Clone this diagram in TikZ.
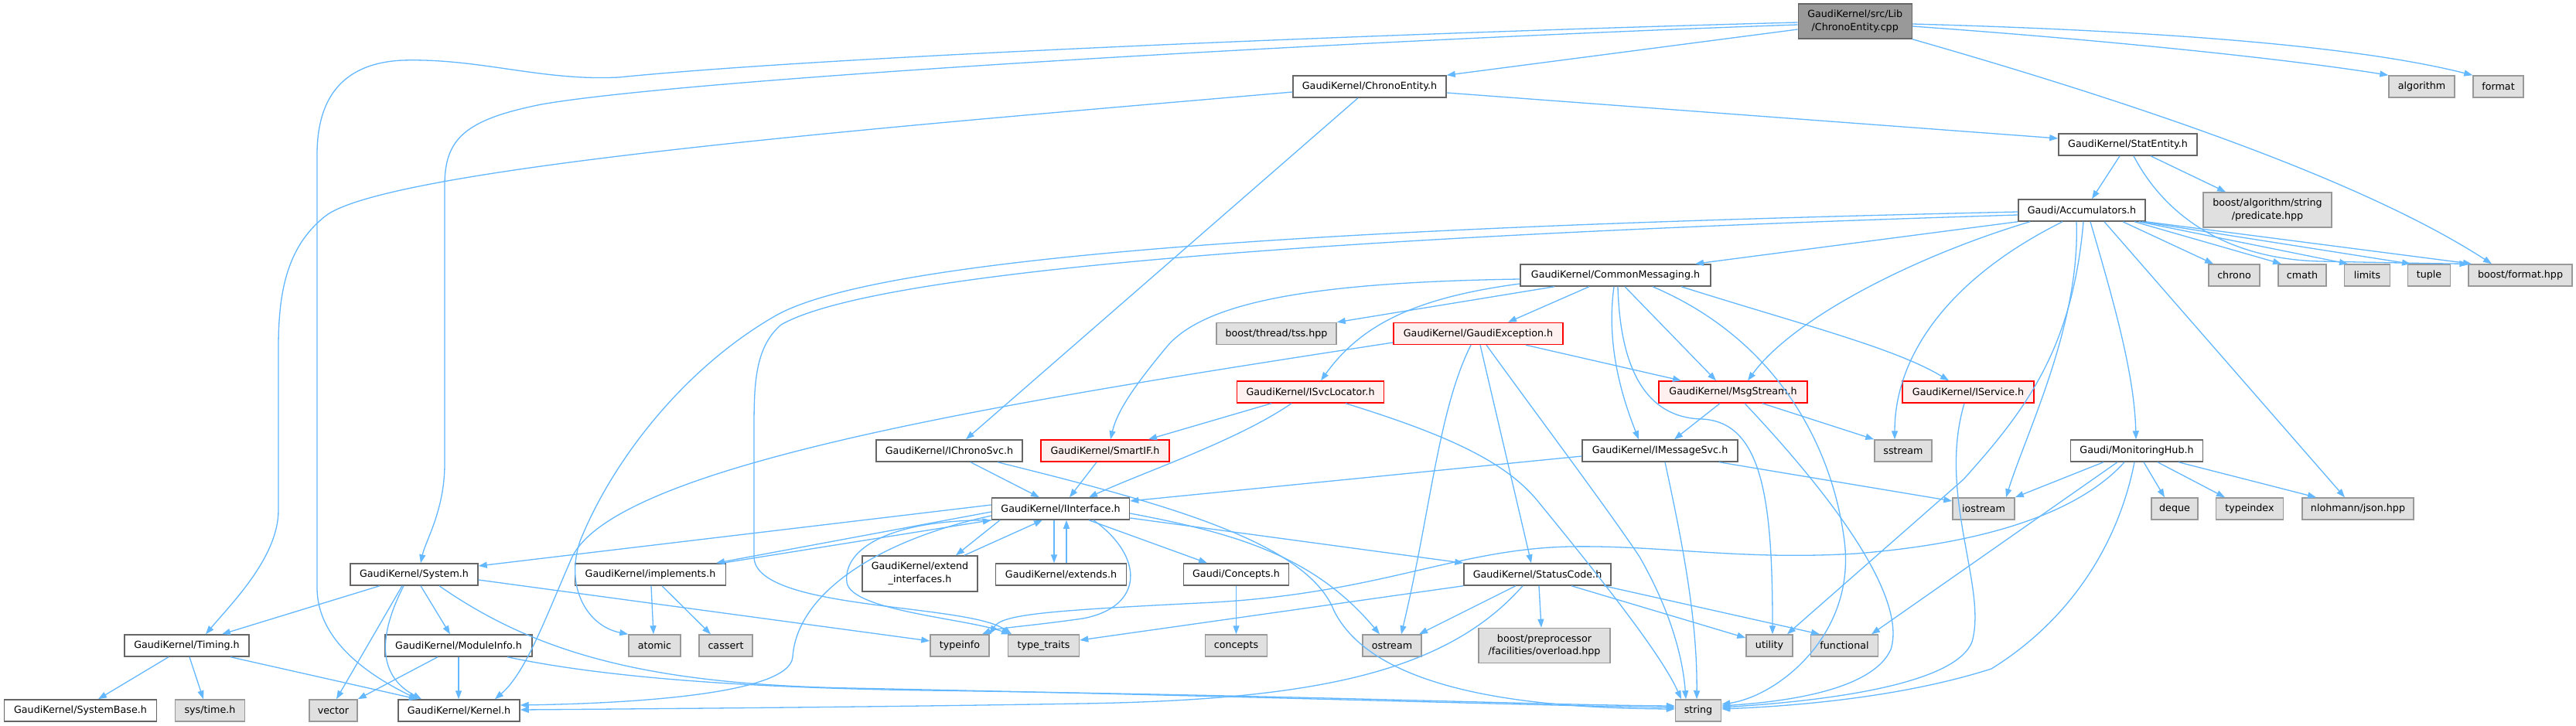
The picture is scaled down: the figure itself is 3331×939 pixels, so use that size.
\documentclass[tikz,border=0pt]{standalone}
\usepackage{fontspec}
\newfontfamily\dvs{DejaVu Sans}
\usetikzlibrary{arrows.meta}
\definecolor{eb}{HTML}{63B8FF}
\definecolor{bdark}{HTML}{666666}
\definecolor{blight}{HTML}{999999}
\definecolor{fext}{HTML}{E0E0E0}
\definecolor{fmain}{HTML}{999999}
\definecolor{ftr}{HTML}{FFF0F0}
\definecolor{btr}{HTML}{FF0000}
\newcommand\gkfont{\dvs\fontsize{12.7pt}{16.7pt}\selectfont}
\tikzset{
 base/.style={rectangle, inner sep=0pt, minimum height=28pt, line width=1.5pt, font=\gkfont, align=center, text=black},
 nd/.style={base, draw=bdark, fill=white},
 ext/.style={base, draw=blight, fill=fext},
 trunc/.style={base, draw=btr, fill=ftr},
 mainnd/.style={base, draw=bdark, fill=fmain},
 e/.style={draw=eb, line width=1.3pt, -{Triangle[length=11pt,width=8pt]}},
}
\begin{document}
\begin{tikzpicture}[x=1pt,y=-1pt]
\fill[white] (0,0) rectangle (3331,939);
\useasboundingbox (0,0) rectangle (3331,939);
% nodes
\node[mainnd, minimum width=147pt, minimum height=45pt] (cpp) at (2398.75,27.5) {GaudiKernel/src/Lib\\/ChronoEntity.cpp};
\node[nd, minimum width=198pt] (chronoh) at (1771,112) {GaudiKernel/ChronoEntity.h};
\node[ext, minimum width=85pt] (algorithm) at (3131.5,112) {algorithm};
\node[ext, minimum width=65pt] (format) at (3230.5,112) {format};
\node[nd, minimum width=179pt] (statentity) at (2751.5,187) {GaudiKernel/StatEntity.h};
\node[nd, minimum width=164pt] (accum) at (2692,272) {Gaudi/Accumulators.h};
\node[ext, minimum width=166pt, minimum height=45pt] (predicate) at (2932,271.5) {boost/algorithm/string\\/predicate.hpp};
\node[nd, minimum width=246pt] (cmsg) at (2089,356) {GaudiKernel/CommonMessaging.h};
\node[ext, minimum width=66pt] (chrono) at (2889,356) {chrono};
\node[ext, minimum width=62pt] (cmath) at (2977,356) {cmath};
\node[ext, minimum width=59pt] (limits) at (3061,356) {limits};
\node[ext, minimum width=55pt] (tuple) at (3141,356) {tuple};
\node[ext, minimum width=134pt] (bformat) at (3259,356) {boost/format.hpp};
\node[ext, minimum width=155pt] (tss) at (1650.5,431.5) {boost/thread/tss.hpp};
\node[trunc, minimum width=219pt] (gexc) at (1911.5,431.5) {GaudiKernel/GaudiException.h};
\node[trunc, minimum width=190pt] (svcloc) at (1694.5,507) {GaudiKernel/ISvcLocator.h};
\node[trunc, minimum width=192pt] (msgstream) at (2241,507) {GaudiKernel/MsgStream.h};
\node[trunc, minimum width=170pt] (iservice) at (2545,507) {GaudiKernel/IService.h};
\node[nd, minimum width=189pt] (ichrono) at (1227.5,583) {GaudiKernel/IChronoSvc.h};
\node[trunc, minimum width=166pt] (smartif) at (1429,583) {GaudiKernel/SmartIF.h};
\node[nd, minimum width=201pt] (imsgsvc) at (2146.5,583) {GaudiKernel/IMessageSvc.h};
\node[ext, minimum width=74pt] (sstream) at (2461,583) {sstream};
\node[nd, minimum width=171pt] (monhub) at (2763,583) {Gaudi/MonitoringHub.h};
\node[nd, minimum width=178pt] (iiface) at (1371.5,658) {GaudiKernel/IInterface.h};
\node[ext, minimum width=80pt] (iostream) at (2565,658) {iostream};
\node[ext, minimum width=60pt] (deque) at (2812,658) {deque};
\node[ext, minimum width=87pt] (typeindex) at (2909,658) {typeindex};
\node[ext, minimum width=144pt] (json) at (3049,658) {nlohmann/json.hpp};
\node[nd, minimum width=165pt] (system) at (535.5,743) {GaudiKernel/System.h};
\node[nd, minimum width=195pt] (implements) at (841,743) {GaudiKernel/implements.h};
\node[nd, minimum width=149pt, minimum height=46pt] (extif) at (1189.5,742) {GaudiKernel/extend\\\_interfaces.h};
\node[nd, minimum width=169pt] (extends) at (1372,743) {GaudiKernel/extends.h};
\node[nd, minimum width=136pt] (conceptsh) at (1598.5,743) {Gaudi/Concepts.h};
\node[nd, minimum width=190pt] (statuscode) at (1988,743) {GaudiKernel/StatusCode.h};
\node[nd, minimum width=161pt] (timing) at (241.5,835) {GaudiKernel/Timing.h};
\node[nd, minimum width=190pt] (moduleinfo) at (593,835) {GaudiKernel/ModuleInfo.h};
\node[ext, minimum width=67pt] (atomic) at (846.5,835) {atomic};
\node[ext, minimum width=69pt] (cassert) at (938.5,835) {cassert};
\node[ext, minimum width=76pt] (typeinfo) at (1241,835) {typeinfo};
\node[ext, minimum width=92pt] (typetraits) at (1349.5,835) {type\_traits};
\node[ext, minimum width=80pt] (concepts) at (1598.5,835) {concepts};
\node[ext, minimum width=76pt] (ostream) at (1800,835) {ostream};
\node[ext, minimum width=170pt, minimum height=45pt] (bpp) at (1997,835) {boost/preprocessor\\/facilities/overload.hpp};
\node[ext, minimum width=60pt] (utility) at (2288,835) {utility};
\node[ext, minimum width=87pt] (functional) at (2385,835) {functional};
\node[nd, minimum width=197pt] (systembase) at (104,919) {GaudiKernel/SystemBase.h};
\node[ext, minimum width=90pt] (systime) at (271.5,919) {sys/time.h};
\node[ext, minimum width=62pt] (vector) at (431,919) {vector};
\node[nd, minimum width=157pt] (kernel) at (593.5,919) {GaudiKernel/Kernel.h};
\node[ext, minimum width=59pt] (string) at (2196,919) {string};
% cpp edges
\draw[e] (cpp.west |- 0,38) -- (chronoh.north east);
\draw[e] (cpp.west |- 0,29) .. controls (1900,40) and (1100,70) .. (800,100) .. controls (700,105) and (620,75) .. (520,78) .. controls (440,82) and (410,130) .. (410,200) -- (410,760) .. controls (410,830) and (480,875) .. (kernel.north -| 540,0);
\draw[e] (cpp.west |- 0,32) .. controls (1800,50) and (900,100) .. (700,135) .. controls (600,155) and (575,180) .. (575,240) -- (575,600) .. controls (575,660) and (550,700) .. (system.north -| 544,0);
\draw[e] (cpp.east |- 0,34) .. controls (2700,50) and (2950,75) .. (algorithm.north west);
\draw[e] (cpp.east |- 0,31) .. controls (2800,40) and (3050,60) .. (format.north west);
\draw[e] (cpp.south east) .. controls (2750,130) and (3050,230) .. (bformat.north -| 3222,0);
% ChronoEntity.h
\draw[e] (chronoh.east |- 0,120) -- (statentity.west |- 0,179);
\draw[e] (chronoh.south -| 1756,0) -- (ichrono.north -| 1249,0);
\draw[e] (chronoh.west |- 0,119) .. controls (1200,160) and (500,215) .. (420,280) .. controls (370,320) and (360,380) .. (360,450) -- (360,660) .. controls (360,720) and (300,780) .. (timing.north -| 266,0);
% StatEntity
\draw[e] (statentity.south -| 2741,0) -- (accum.north -| 2705,0);
\draw[e] (statentity.south -| 2781,0) -- (predicate.north -| 2878,0);
\draw[e] (statentity.south -| 2759,0) .. controls (2800,280) and (2880,335) .. (3000,338) .. controls (3100,340) and (3160,341) .. (bformat.north west);
% Accumulators
\draw[e] (accum.south west) -- (cmsg.north -| 2192,0);
\draw[e] (accum.south -| 2625,0) .. controls (2480,330) and (2320,410) .. (msgstream.north -| 2260,0);
\draw[e] (accum.south -| 2667,0) .. controls (2520,360) and (2450,460) .. (sstream.north -| 2450,0);
\draw[e] (accum.south -| 2685,0) .. controls (2690,420) and (2620,560) .. (iostream.north -| 2594,0);
\draw[e] (accum.south -| 2703,0) .. controls (2730,380) and (2760,480) .. (monhub.north -| 2762,0);
\draw[e] (accum.south -| 2721,0) -- (json.north -| 3032,0);
\draw[e] (accum.south -| 2745,0) -- (chrono.north -| 2862,0);
\draw[e] (accum.south -| 2760,0) -- (cmath.north -| 2950,0);
\draw[e] (accum.south -| 2766,0) -- (limits.north -| 3036,0);
\draw[e] (accum.south -| 2770,0) -- (tuple.north -| 3117,0);
\draw[e] (accum.south east) -- (bformat.north -| 3196,0);
\draw[e] (accum.south -| 2694,0) .. controls (2680,450) and (2620,530) .. (2539,620) -- (utility.north -| 2311,0);
\draw[e] (accum.west |- 0,274) .. controls (1900,290) and (1150,320) .. (1000,410) .. controls (880,480) and (790,600) .. (750,700) .. controls (730,760) and (760,810) .. (atomic.north west);
\draw[e] (accum.west |- 0,278) .. controls (1900,300) and (1150,340) .. (1010,420) .. controls (975,450) and (975,500) .. (975,560) -- (975,720) .. controls (975,790) and (1250,780) .. (typetraits.north -| 1308,0);
% CommonMessaging
\draw[e] (cmsg.west |- 0,361) .. controls (1700,365) and (1560,390) .. (1510,447) .. controls (1470,495) and (1445,530) .. (smartif.north -| 1436,0);
\draw[e] (cmsg.west |- 0,367) .. controls (1830,385) and (1760,420) .. (svcloc.north -| 1708,0);
\draw[e] (cmsg.south -| 2010,0) -- (tss.north east);
\draw[e] (cmsg.south -| 2055,0) -- (gexc.north -| 1950,0);
\draw[e] (cmsg.south -| 2087,0) .. controls (2076,450) and (2100,520) .. (imsgsvc.north -| 2119,0);
\draw[e] (cmsg.south -| 2101,0) -- (msgstream.north -| 2219,0);
\draw[e] (cmsg.south -| 2092,0) .. controls (2095,480) and (2130,540) .. (2200,542) .. controls (2280,545) and (2292,650) .. (utility.north -| 2292,0);
\draw[e] (cmsg.south -| 2174,0) .. controls (2330,420) and (2450,450) .. (iservice.north -| 2520,0);
\draw[e] (cmsg.south -| 2137,0) .. controls (2300,440) and (2370,580) .. (2385,700) .. controls (2400,820) and (2300,900) .. (string.east |- 0,911);
% GaudiException
\draw[e] (gexc.south -| 1973,0) -- (msgstream.north -| 2174,0);
\draw[e] (gexc.west |- 0,443) .. controls (1300,520) and (800,600) .. (740,720) .. controls (705,800) and (680,870) .. (kernel.north -| 640,0);
\draw[e] (gexc.south -| 1914,0) -- (statuscode.north -| 1980,0);
\draw[e] (gexc.south -| 1922,0) .. controls (1990,540) and (2080,660) .. (2120,720) .. controls (2160,790) and (2176,850) .. (string.north -| 2180,0);
\draw[e] (gexc.south -| 1902,0) .. controls (1860,530) and (1850,660) .. (ostream.north -| 1812,0);
% ISvcLocator
\draw[e] (svcloc.south -| 1644,0) -- (smartif.north -| 1485,0);
\draw[e] (svcloc.south -| 1670,0) .. controls (1600,570) and (1480,610) .. (iiface.north -| 1408,0);
\draw[e] (svcloc.south -| 1740,0) .. controls (1880,565) and (1950,600) .. (1990,650) .. controls (2080,760) and (2150,850) .. (string.north -| 2174,0);
% MsgStream
\draw[e] (msgstream.south -| 2224,0) -- (imsgsvc.north -| 2165,0);
\draw[e] (msgstream.south -| 2279,0) -- (sstream.north west);
\draw[e] (msgstream.south -| 2256,0) .. controls (2330,600) and (2470,760) .. (2445,840) .. controls (2420,895) and (2300,908) .. (string.east |- 0,913);
% IService
\draw[e] (iservice.south -| 2540,0) .. controls (2505,640) and (2570,760) .. (2550,830) .. controls (2525,895) and (2300,910) .. (string.east |- 0,915);
% IChronoSvc
\draw[e] (ichrono.south -| 1255,0) -- (iiface.north -| 1344,0);
\draw[e] (ichrono.south -| 1290,0) .. controls (1500,650) and (1690,700) .. (1725,790) .. controls (1780,900) and (2000,916) .. (string.west |- 0,917);
% SmartIF
\draw[e] (smartif.south -| 1418,0) -- (iiface.north -| 1383,0);
% IMessageSvc
\draw[e] (imsgsvc.west |- 0,590) -- (iiface.east |- 0,648);
\draw[e] (imsgsvc.south -| 2223,0) -- (iostream.west |- 0,648);
\draw[e] (imsgsvc.south -| 2153,0) .. controls (2175,700) and (2195,800) .. (string.north -| 2194,0);
% MonitoringHub
\draw[e] (monhub.south -| 2720,0) -- (iostream.north east);
\draw[e] (monhub.south -| 2772,0) -- (deque.north -| 2799,0);
\draw[e] (monhub.south -| 2790,0) -- (typeindex.north -| 2877,0);
\draw[e] (monhub.south -| 2817,0) -- (json.north -| 2995,0);
\draw[e] (monhub.south -| 2747,0) .. controls (2700,650) and (2600,700) .. (2400,716) .. controls (2250,725) and (2150,705) .. (2030,707) .. controls (1880,710) and (1780,770) .. (1550,780) .. controls (1350,790) and (1295,795) .. (typeinfo.north east);
\draw[e] (monhub.south -| 2738,0) -- (functional.north -| 2420,0);
\draw[e] (monhub.south -| 2760,0) .. controls (2740,700) and (2680,800) .. (2575,865) .. controls (2450,905) and (2300,914) .. (string.east |- 0,917);
% IInterface
\draw[e] (iiface.west |- 0,653) -- (system.east |- 0,732);
\draw[e] (iiface.west |- 0,662) -- (implements.north -| 926,0);
\draw[e] (implements.north -| 934,0) -- (iiface.south west);
\draw[e] (iiface.south -| 1293,0) -- (extif.north -| 1236,0);
\draw[e] (extif.north -| 1247,0) -- (iiface.south -| 1348,0);
\draw[e] (iiface.south -| 1363,0) -- (extends.north -| 1363,0);
\draw[e] (extends.north -| 1379,0) -- (iiface.south -| 1379,0);
\draw[e] (iiface.south -| 1408,0) -- (conceptsh.north -| 1561,0);
\draw[e] (iiface.east |- 0,670) -- (statuscode.north west);
\draw[e] (iiface.east |- 0,664) .. controls (1600,690) and (1700,720) .. (ostream.north -| 1784,0);
\draw[e] (iiface.south -| 1414,0) .. controls (1480,720) and (1480,785) .. (1400,800) .. controls (1330,810) and (1290,812) .. (typeinfo.north -| 1270,0);
\draw[e] (iiface.south west) .. controls (1150,672) and (1090,710) .. (1095,753) .. controls (1100,790) and (1250,800) .. (typetraits.north -| 1306,0);
\draw[e] (iiface.west |- 0,667) .. controls (1130,700) and (1030,770) .. (1025,850) .. controls (1020,900) and (800,910) .. (kernel.east |- 0,912);
% implements
\draw[e] (implements.south -| 842,0) -- (atomic.north -| 845,0);
\draw[e] (implements.south -| 856,0) -- (cassert.north -| 919,0);
% Concepts
\draw[e] (conceptsh) -- (concepts);
% StatusCode
\draw[e] (statuscode.south -| 1990,0) -- (bpp.north -| 1993,0);
\draw[e] (statuscode.south -| 2032,0) -- (utility.west |- 0,825);
\draw[e] (statuscode.south -| 2074,0) -- (functional.north -| 2353,0);
\draw[e] (statuscode.south -| 1960,0) -- (ostream.north -| 1835,0);
\draw[e] (statuscode.south west) -- (typetraits.east |- 0,828);
\draw[e] (statuscode.south -| 1969,0) .. controls (1870,870) and (1700,905) .. (1400,910) .. controls (1100,915) and (800,917) .. (kernel.east |- 0,918);
% System
\draw[e] (system.south -| 491,0) -- (timing.north -| 287,0);
\draw[e] (system.south -| 544,0) -- (moduleinfo.north -| 582,0);
\draw[e] (system.south -| 522,0) .. controls (480,840) and (500,880) .. (kernel.north -| 545,0);
\draw[e] (system.south -| 520,0) -- (vector.north -| 435,0);
\draw[e] (system.east |- 0,750) -- (typeinfo.west |- 0,829);
\draw[e] (system.south -| 568,0) .. controls (700,850) and (850,885) .. (1100,890) .. controls (1600,900) and (2000,913) .. (string.west |- 0,915);
% ModuleInfo
\draw[e] (moduleinfo.south -| 593,0) -- (kernel.north -| 593,0);
\draw[e] (moduleinfo.south -| 566,0) -- (vector.north east);
\draw[e] (moduleinfo.south -| 656,0) .. controls (800,880) and (1000,890) .. (1200,893) .. controls (1700,900) and (2000,912) .. (string.west |- 0,913);
% Timing
\draw[e] (timing.south -| 218,0) -- (systembase.north -| 127,0);
\draw[e] (timing.south -| 245,0) -- (systime.north -| 263,0);
\draw[e] (timing.south -| 298,0) -- (kernel.north -| 540,0);
\end{tikzpicture}
\end{document}
